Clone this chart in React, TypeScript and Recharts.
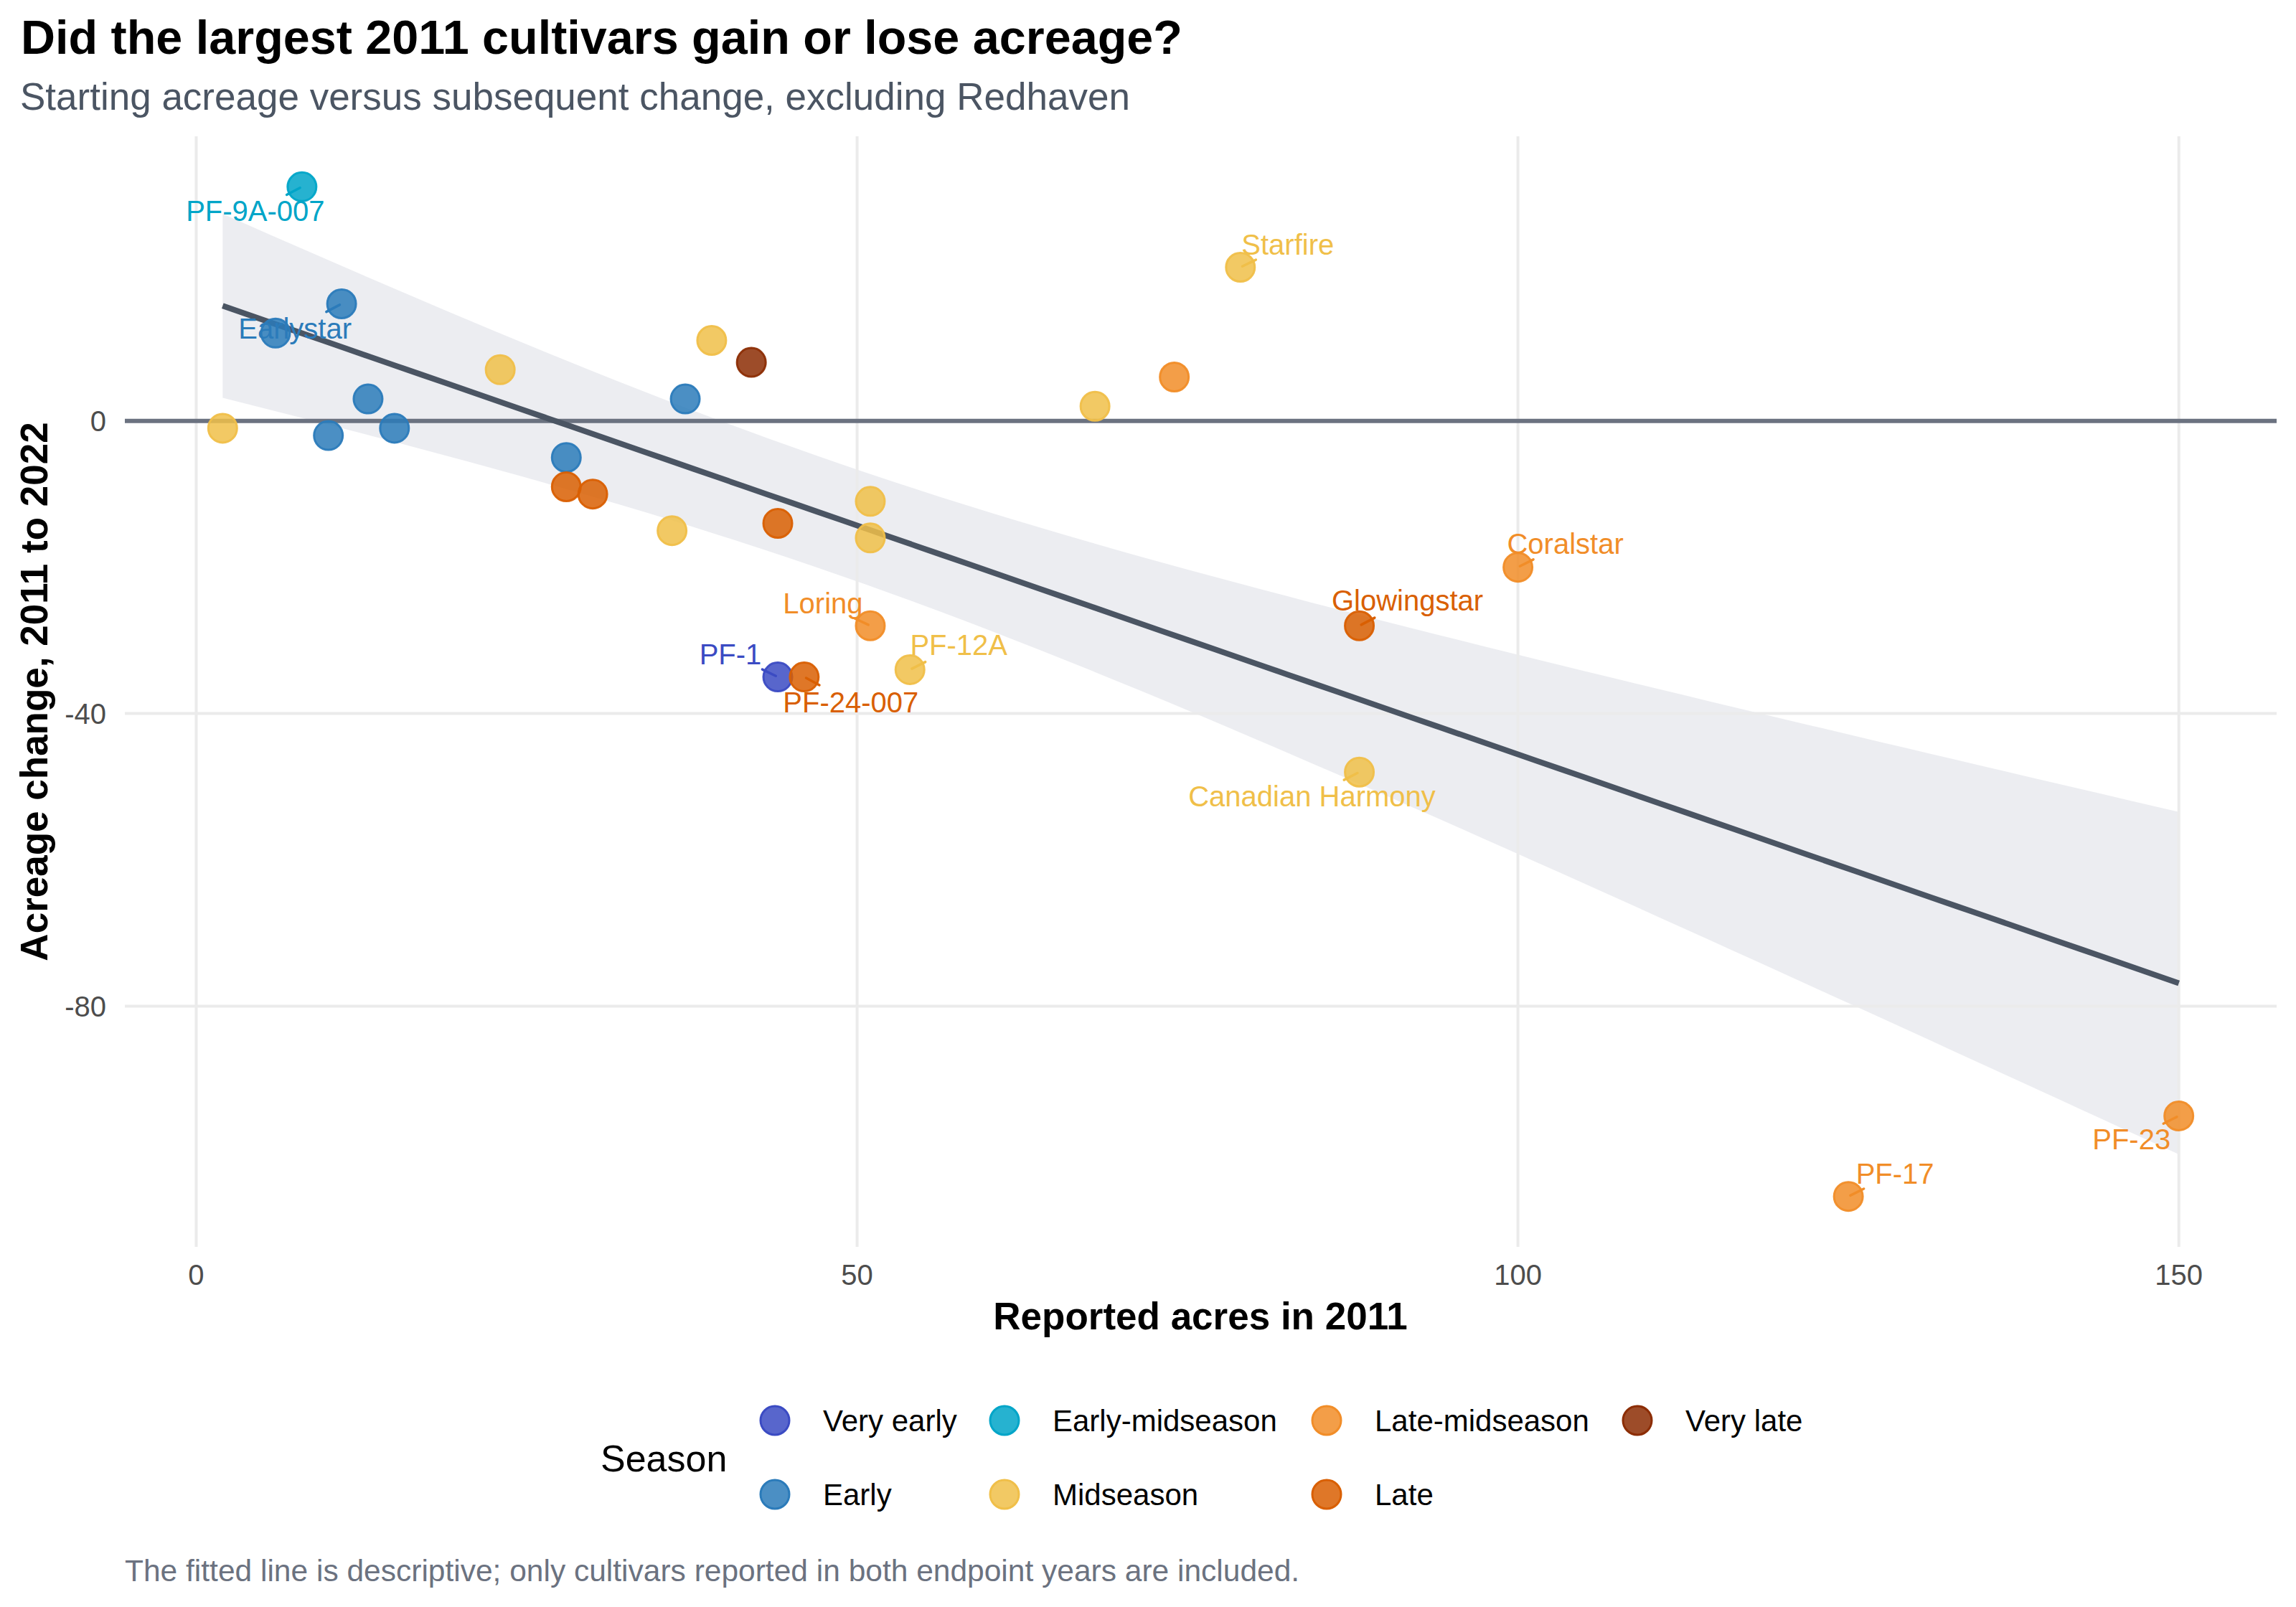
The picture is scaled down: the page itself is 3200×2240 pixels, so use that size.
import React from "react";
import {
  ComposedChart,
  Area,
  Line,
  Scatter,
  XAxis,
  YAxis,
  ReferenceLine,
} from "recharts";

const seasons = [
  "Very early",
  "Early",
  "Early-midseason",
  "Midseason",
  "Late-midseason",
  "Late",
  "Very late",
];
const seasonColors = ["#3b4bc3", "#2b7bba", "#00a5c8", "#f0bf49", "#f18d28", "#d95f02", "#8c2d04"];

// one entry per cultivar (blank name = not labelled)
const cultivars = [
  "PF-9A-007", "Earlystar", "", "", "", "", "", "", "", "",
  "", "", "", "", "", "", "", "", "Loring", "PF-1",
  "PF-24-007", "PF-12A", "", "", "Starfire", "Glowingstar", "Canadian Harmony", "Coralstar", "PF-17", "PF-23",
];
const cultivarSeason = [
  "Early-midseason", "Early", "Early", "Midseason", "Early", "Early", "Early", "Midseason", "Early", "Late",
  "Late", "Midseason", "Midseason", "Very late", "Early", "Late", "Midseason", "Midseason", "Late-midseason", "Very early",
  "Late", "Midseason", "Midseason", "Late-midseason", "Midseason", "Late", "Midseason", "Late-midseason", "Late-midseason", "Late-midseason",
];
const acres2011 = [8, 11, 6, 2, 10, 13, 15, 23, 28, 28, 30, 36, 39, 42, 37, 44, 51, 51, 51, 44, 46, 54, 68, 74, 79, 88, 88, 100, 125, 150];
const acreageChange = [32, 16, 12, -1, -2, 3, -1, 7, -5, -9, -10, -15, 11, 8, 3, -14, -11, -16, -28, -35, -35, -34, 2, 6, 21, -28, -48, -20, -106, -95];

const xTicks = [0, 50, 100, 150];
const yTicks = [-80, -40, 0];

// label nudges in pixels (text centre relative to the point)
const labelNudge: Record<string, [number, number]> = {
  "PF-9A-007": [-65, 34],
  Earlystar: [-65, 34],
  Starfire: [66, -32],
  Coralstar: [66, -33],
  Glowingstar: [67, -35],
  "Canadian Harmony": [-66, 34],
  Loring: [-66, -31],
  "PF-1": [-66, -32],
  "PF-24-007": [65, 35],
  "PF-12A": [68, -34],
  "PF-17": [65, -32],
  "PF-23": [-66, 33],
};

const FONT = "'Liberation Sans', Arial, Helvetica, sans-serif";
const GRID = "#ebebeb";

const points = acres2011.map((x, i) => ({
  x,
  y: acreageChange[i],
  name: cultivars[i],
  season: cultivarSeason[i],
}));

const colorOf = (season: string) => seasonColors[seasons.indexOf(season)];

// linear fit with 95% confidence band, like geom_smooth(method = "lm")
function fitBand() {
  const n = points.length;
  const mx = points.reduce((s, p) => s + p.x, 0) / n;
  const my = points.reduce((s, p) => s + p.y, 0) / n;
  let sxx = 0;
  let sxy = 0;
  points.forEach((p) => {
    sxx += (p.x - mx) ** 2;
    sxy += (p.x - mx) * (p.y - my);
  });
  const slope = sxy / sxx;
  const intercept = my - slope * mx;
  const rss = points.reduce((s, p) => s + (p.y - intercept - slope * p.x) ** 2, 0);
  const sigma = Math.sqrt(rss / (n - 2));
  const t = 2.0484; // t(0.975, df = 28)
  const xmin = Math.min(...acres2011);
  const xmax = Math.max(...acres2011);
  const out = [];
  for (let i = 0; i < 80; i++) {
    const x = xmin + ((xmax - xmin) * i) / 79;
    const fit = intercept + slope * x;
    const se = sigma * Math.sqrt(1 / n + (x - mx) ** 2 / sxx);
    out.push({ x, fit, band: [fit - t * se, fit + t * se] });
  }
  return out;
}

const bandData = fitBand();

const dotShape = (color: string) => (props: any) => (
  <circle
    cx={props.cx}
    cy={props.cy}
    r={20}
    fill={color}
    fillOpacity={0.85}
    stroke={color}
    strokeOpacity={0.95}
    strokeWidth={3}
  />
);

const labelShape = (props: any) => {
  const { cx, cy, payload } = props;
  const nudge = labelNudge[payload.name] || [0, 0];
  const len = Math.hypot(nudge[0], nudge[1]);
  const ux = nudge[0] / len;
  const uy = nudge[1] / len;
  const color = colorOf(payload.season);
  return (
    <g>
      <line
        x1={cx + ux * 3}
        y1={cy + uy * 3}
        x2={cx + ux * 24}
        y2={cy + uy * 24}
        stroke={color}
        strokeWidth={3.5}
        strokeLinecap="round"
      />
      <text
        x={cx + nudge[0]}
        y={cy + nudge[1]}
        textAnchor="middle"
        dominantBaseline="central"
        fontFamily={FONT}
        fontSize={40}
        fill={color}
      >
        {payload.name}
      </text>
    </g>
  );
};

const legendColX = [1080, 1400, 1849, 2282];
const legendRowY = [1980, 2083];

function SeasonLegend() {
  return (
    <g fontFamily={FONT}>
      <text x={837} y={2051} fontSize={52} fill="#000">
        Season
      </text>
      {seasons.map((s, i) => {
        const cx = legendColX[Math.floor(i / 2)];
        const cy = legendRowY[i % 2];
        return (
          <g key={s}>
            <circle cx={cx} cy={cy} r={20} fill={seasonColors[i]} fillOpacity={0.85} stroke={seasonColors[i]} strokeWidth={3} />
            <text x={cx + 67} y={cy + 15} fontSize={42} fill="#000">
              {s}
            </text>
          </g>
        );
      })}
    </g>
  );
}

export default function App() {
  const labelled = points.filter((p) => p.name !== "");
  return (
    <div style={{ position: "relative", width: 3200, height: 2240, background: "#fff" }}>
      <style>{"body{margin:0}"}</style>
      <ComposedChart
        width={3200}
        height={1900}
        data={bandData}
        margin={{ top: 190, right: 27, bottom: 102, left: 94 }}
        style={{ position: "absolute", left: 0, top: 0 }}
      >
        <XAxis
          type="number"
          dataKey="x"
          domain={[-5.4, 157.4]}
          ticks={xTicks}
          allowDataOverflow
          axisLine={false}
          tickLine={false}
          tickMargin={19}
          height={60}
          tick={{ fontSize: 40, fill: "#4d4d4d", fontFamily: FONT }}
        />
        <YAxis
          type="number"
          dataKey="y"
          domain={[-112.9, 38.9]}
          ticks={yTicks}
          allowDataOverflow
          axisLine={false}
          tickLine={false}
          tickMargin={20}
          width={80}
          tick={{ fontSize: 40, fill: "#4d4d4d", fontFamily: FONT }}
        />
        {xTicks.map((t) => (
          <ReferenceLine key={"gx" + t} x={t} stroke={GRID} strokeWidth={4} />
        ))}
        {yTicks.map((t) => (
          <ReferenceLine key={"gy" + t} y={t} stroke={GRID} strokeWidth={4} />
        ))}
        <ReferenceLine y={0} stroke="#6b7280" strokeWidth={6} />
        <Area
          type="linear"
          dataKey="band"
          stroke="none"
          fill="#cdd0da"
          fillOpacity={0.38}
          isAnimationActive={false}
          legendType="none"
        />
        <Line
          type="linear"
          dataKey="fit"
          stroke="#4b5563"
          strokeWidth={8}
          dot={false}
          isAnimationActive={false}
          legendType="none"
        />
        {seasons.map((s, i) => (
          <Scatter
            key={s}
            name={s}
            data={points.filter((p) => p.season === s)}
            shape={dotShape(seasonColors[i])}
            isAnimationActive={false}
          />
        ))}
        <Scatter data={labelled} shape={labelShape} isAnimationActive={false} legendType="none" />
      </ComposedChart>
      <svg
        width={3200}
        height={2240}
        style={{ position: "absolute", left: 0, top: 0, pointerEvents: "none" }}
      >
        <g fontFamily={FONT}>
          <text x={29} y={75} fontSize={66.5} fontWeight="bold" fill="#000">
            Did the largest 2011 cultivars gain or lose acreage?
          </text>
          <text x={28} y={153} fontSize={53} fill="#4b5563">
            Starting acreage versus subsequent change, excluding Redhaven
          </text>
          <text x={1673} y={1853} fontSize={53} fontWeight="bold" fill="#000" textAnchor="middle">
            Reported acres in 2011
          </text>
          <text
            x={0}
            y={0}
            fontSize={53}
            fontWeight="bold"
            fill="#000"
            textAnchor="middle"
            transform="translate(66 964) rotate(-90)"
          >
            Acreage change, 2011 to 2022
          </text>
          <text x={174} y={2204} fontSize={42.5} fill="#6b7280">
            The fitted line is descriptive; only cultivars reported in both endpoint years are included.
          </text>
        </g>
        <SeasonLegend />
      </svg>
    </div>
  );
}
